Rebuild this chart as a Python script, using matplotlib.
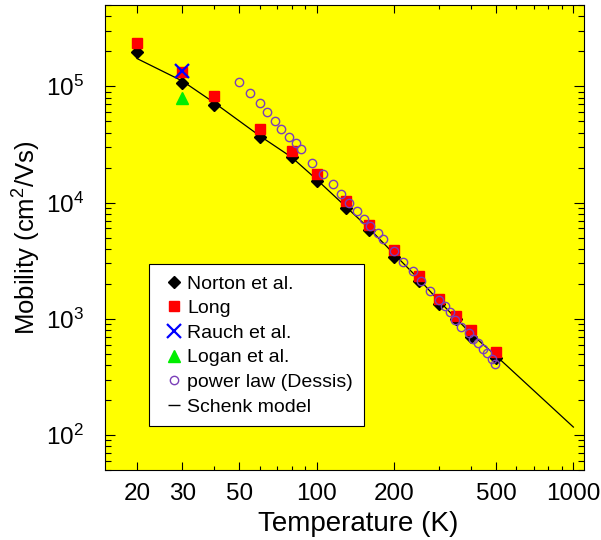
import numpy as np
import matplotlib
matplotlib.use("Agg")
import matplotlib.pyplot as plt
from matplotlib.lines import Line2D
from matplotlib.ticker import FixedLocator, FixedFormatter, LogLocator, NullFormatter

plt.rcParams['font.family'] = ['Liberation Sans', 'DejaVu Sans']
plt.rcParams['mathtext.fontset'] = 'custom'
plt.rcParams['mathtext.rm'] = 'Liberation Sans'
plt.rcParams['mathtext.it'] = 'Liberation Sans:italic'
plt.rcParams['mathtext.bf'] = 'Liberation Sans:bold'

# measured data (temperature in K, mobility in cm^2/Vs)
norton_T = [20, 30, 40, 60, 80, 100, 130, 160, 200, 250, 300, 350, 400, 500]
norton_mu = [1.96e5, 1.07e5, 6.87e4, 3.63e4, 2.45e4, 1.52e4, 8.95e3, 5.8e3,
             3.42e3, 2.11e3, 1.33e3, 990, 700, 462]

long_T = [20, 30, 40, 60, 80, 100, 130, 160, 200, 250, 300, 350, 400, 500]
long_mu = [2.36e5, 1.33e5, 8.2e4, 4.3e4, 2.79e4, 1.77e4, 1.03e4, 6.45e3,
           3.9e3, 2.31e3, 1.49e3, 1.06e3, 794, 517]

rauch_T = [30]
rauch_mu = [1.35e5]

logan_T = [30]
logan_mu = [7.94e4]

# power law (Dessis)
power_T = [50, 55, 60, 64, 69, 73, 78, 83, 87, 96, 106, 116, 125, 134, 144,
           153, 162, 173, 182, 200, 218, 237, 256, 276, 300, 315, 330, 345,
           366, 392, 408, 426, 444, 460, 480, 496]
power_mu = [1.08e5, 8.77e4, 7.2e4, 5.95e4, 5.01e4, 4.28e4, 3.67e4, 3.23e4,
            2.87e4, 2.17e4, 1.76e4, 1.43e4, 1.19e4, 9.97e3, 8.41e3, 7.19e3,
            6.30e3, 5.45e3, 4.84e3, 3.80e3, 3.08e3, 2.55e3, 2.13e3, 1.75e3,
            1.46e3, 1.30e3, 1.14e3, 985, 853, 757, 673, 613, 552, 510, 453, 410]

# Schenk model
schenk_T = [20, 30, 40, 60, 80, 100, 130, 160, 200, 250, 300, 400, 500, 700, 1000]
schenk_mu = [1.73e5, 1.11e5, 7.2e4, 3.75e4, 2.45e4, 1.58e4, 9.2e3, 6.0e3,
             3.62e3, 2.2e3, 1.42e3, 740, 480, 242, 117]

x_major = [20, 30, 50, 100, 200, 500, 1000]
x_minor = [40, 60, 70, 80, 90, 300, 400, 600, 700, 800, 900]

fig = plt.figure(figsize=(6.01, 5.40), dpi=100)
ax = fig.add_axes([105 / 601, 70 / 540, 479 / 601, 465 / 540])
ax.set_facecolor('#ffff00')

ax.plot(schenk_T, schenk_mu, color='black', lw=0.9, zorder=2)
h1, = ax.plot(norton_T, norton_mu, ls='none', marker='D', ms=6.6, color='black',
              mec='black', zorder=3, label='Norton et al.')
h2, = ax.plot(long_T, long_mu, ls='none', marker='s', ms=7.2, color='#ff0000',
              mec='#ff0000', zorder=4, label='Long')
h3, = ax.plot(rauch_T, rauch_mu, ls='none', marker='x', ms=10, mew=1.6,
              color='#0000ff', zorder=6, label='Rauch et al.')
h4, = ax.plot(logan_T, logan_mu, ls='none', marker='^', ms=9, color='#00ee00',
              mec='#00ee00', zorder=5, label='Logan et al.')
h5, = ax.plot(power_T, power_mu, ls='none', marker='o', ms=6, mfc='none',
              mec='#7a3fb8', mew=1.0, zorder=5, label='power law (Dessis)')
h6 = Line2D([], [], ls='none', marker='_', ms=8, mew=1.0, color='black',
            label='Schenk model')

ax.set_xscale('log')
ax.set_yscale('log')
ax.set_xlim(15, 1100)
ax.set_ylim(50, 5e5)

ax.xaxis.set_major_locator(FixedLocator(x_major))
ax.xaxis.set_major_formatter(FixedFormatter([str(v) for v in x_major]))
ax.xaxis.set_minor_locator(FixedLocator(x_minor))
ax.xaxis.set_minor_formatter(NullFormatter())
ax.yaxis.set_major_locator(FixedLocator([1e2, 1e3, 1e4, 1e5]))
ax.yaxis.set_minor_locator(LogLocator(base=10, subs=np.arange(2, 10)))
ax.yaxis.set_minor_formatter(NullFormatter())

ax.tick_params(axis='both', which='both', direction='in', top=True, right=True,
               width=0.8, labelsize=17.5)
ax.tick_params(axis='x', which='major', length=5.5, pad=9)
ax.tick_params(axis='x', which='minor', length=3)
ax.tick_params(axis='y', which='major', length=7, pad=15)
ax.tick_params(axis='y', which='minor', length=4)
for s in ax.spines.values():
    s.set_linewidth(0.8)

ax.set_xlabel('Temperature (K)', fontsize=20)
ax.xaxis.set_label_coords(0.528, -0.089)
ax.set_ylabel('Mobility (cm$^2$/Vs)', fontsize=18.5, labelpad=2)

leg = ax.legend(handles=[h1, h2, h3, h4, h5, h6], loc='upper left',
                bbox_to_anchor=(0.0925, 0.4424), borderaxespad=0,
                fontsize=14, frameon=True, fancybox=False, framealpha=1,
                edgecolor='black', borderpad=0.55, handlelength=1.4,
                handletextpad=0.0, labelspacing=0.36)
leg.get_frame().set_linewidth(0.8)

fig.savefig('out.png', dpi=100)
